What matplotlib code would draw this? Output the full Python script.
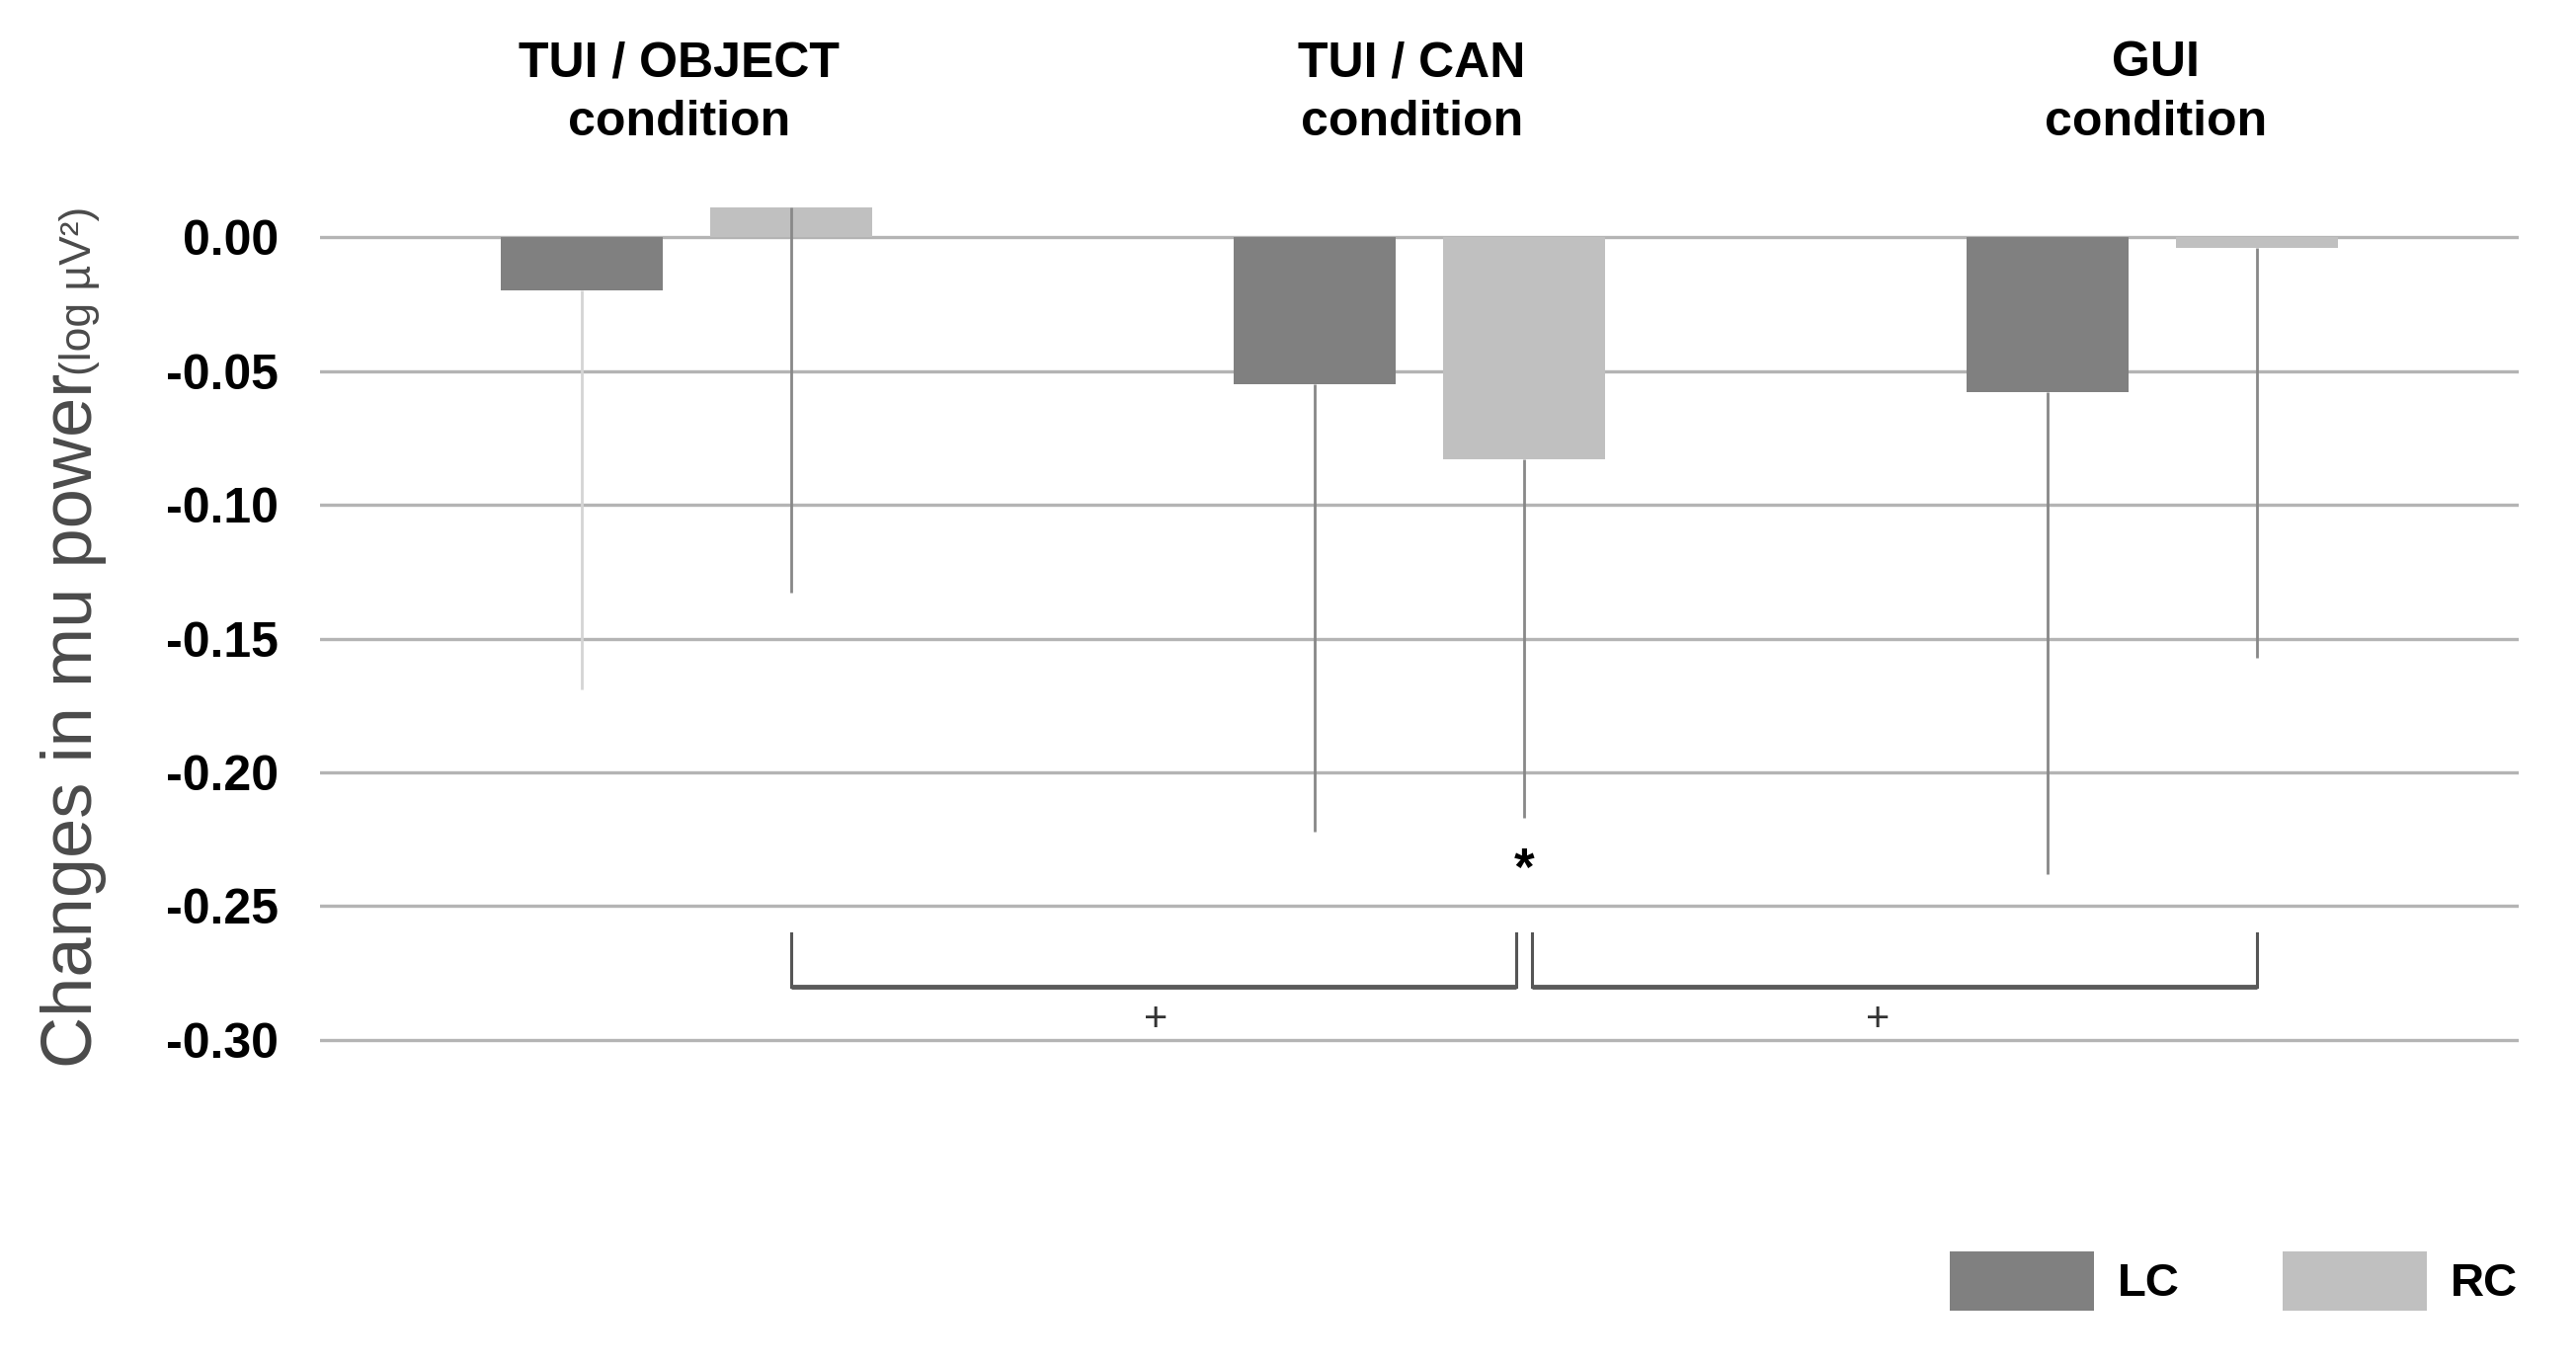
import matplotlib
matplotlib.use('Agg')
import matplotlib.pyplot as plt
import numpy as np

plt.rcParams['font.family'] = ['Liberation Sans', 'DejaVu Sans']

conditions = ['TUI / OBJECT\ncondition', 'TUI / CAN\ncondition', 'GUI\ncondition']
series = ['LC', 'RC']
lc_mean = [-0.020, -0.055, -0.058]
rc_mean = [0.011, -0.083, -0.004]
lc_low = [-0.169, -0.222, -0.238]
rc_low = [-0.133, -0.217, -0.157]
yticks = [0.00, -0.05, -0.10, -0.15, -0.20, -0.25, -0.30]
ytick_labels = ['0.00', '-0.05', '-0.10', '-0.15', '-0.20', '-0.25', '-0.30']

# significance marks: brackets between RC bars, '+' marks below them
brackets = [(0, 1), (1, 2)]
plus_x = [0.64, 1.625]
star_group = 1

W, H = 2608, 1382
fig = plt.figure(figsize=(W / 100, H / 100), dpi=100)
ax = fig.add_axes([324 / W, (H - 1080) / H, 2226 / W, (1080 - 186) / H])

x = np.arange(len(conditions))
off = 0.143
bw = 0.22
lc_col = '#808080'
rc_col = '#c0c0c0'

for y in yticks:
    ax.axhline(y, color='#b4b4b4', lw=2.4, zorder=1)

b1 = ax.bar(x - off, lc_mean, bw, color=lc_col, zorder=2, label='LC')
b2 = ax.bar(x + off, rc_mean, bw, color=rc_col, zorder=2, label='RC')

lc_err_cols = ['#d4d4d4', '#888888', '#888888']
ax.vlines(x - off, lc_low, lc_mean, colors=lc_err_cols, lw=2, zorder=3)
ax.vlines(x + off, rc_low, rc_mean, colors='#888888', lw=2, zorder=3)

top, bot = -0.260, -0.280
gap = 0.011
for a, b in brackets:
    x0 = a + off + (gap if a == star_group else 0)
    x1 = b + off - (gap if b == star_group else 0)
    ax.plot([x0, x0], [top, bot], color='#555555', lw=2.2, zorder=3)
    ax.plot([x1, x1], [top, bot], color='#555555', lw=2.2, zorder=3)
    ax.plot([x0, x1], [bot, bot], color='#5a5a5a', lw=3.5,
            solid_capstyle='butt', zorder=3)
for px in plus_x:
    ax.text(px, -0.2925, '+', ha='center', va='center',
            fontsize=30, color='#333333')

ax.text(star_group + off, -0.237, '*', ha='center', va='center',
        fontsize=38, fontweight='bold', color='black')

title_shift = [-0.01, -0.01, 0.005]
for i, c in enumerate(conditions):
    ax.text(i + title_shift[i], 0.054, c, ha='center', va='center', fontsize=36,
            fontweight='bold', linespacing=1.38, clip_on=False)

ax.set_xlim(-0.5, 2.5)
ax.set_ylim(-0.31, 0.02)
ax.set_yticks(yticks)
ax.set_yticklabels(ytick_labels, fontsize=36, fontweight='bold')
ax.tick_params(axis='y', length=0, pad=30)
ax.set_xticks([])
for s in ax.spines.values():
    s.set_visible(False)

# y label: main part plus smaller unit part on same baseline
fig.text(93 / W, 1 - 1081 / H, 'Changes in mu power', rotation=90,
         rotation_mode='anchor', ha='left', va='baseline', fontsize=52,
         color='#4a4a4a')
fig.text(92 / W, 1 - 380 / H, '(log µV²)', rotation=90,
         rotation_mode='anchor', ha='left', va='baseline', fontsize=32,
         color='#4a4a4a')

leg = fig.legend(handles=[b1, b2], labels=series, loc='center left',
                 bbox_to_anchor=(1974 / W, 1 - 1297 / H), ncol=2,
                 frameon=False, borderpad=0, borderaxespad=0,
                 handlelength=3.1, handleheight=1.6, handletextpad=0.5,
                 columnspacing=2.2, prop={'size': 34, 'weight': 'bold'})

fig.savefig('out.png', dpi=100)
